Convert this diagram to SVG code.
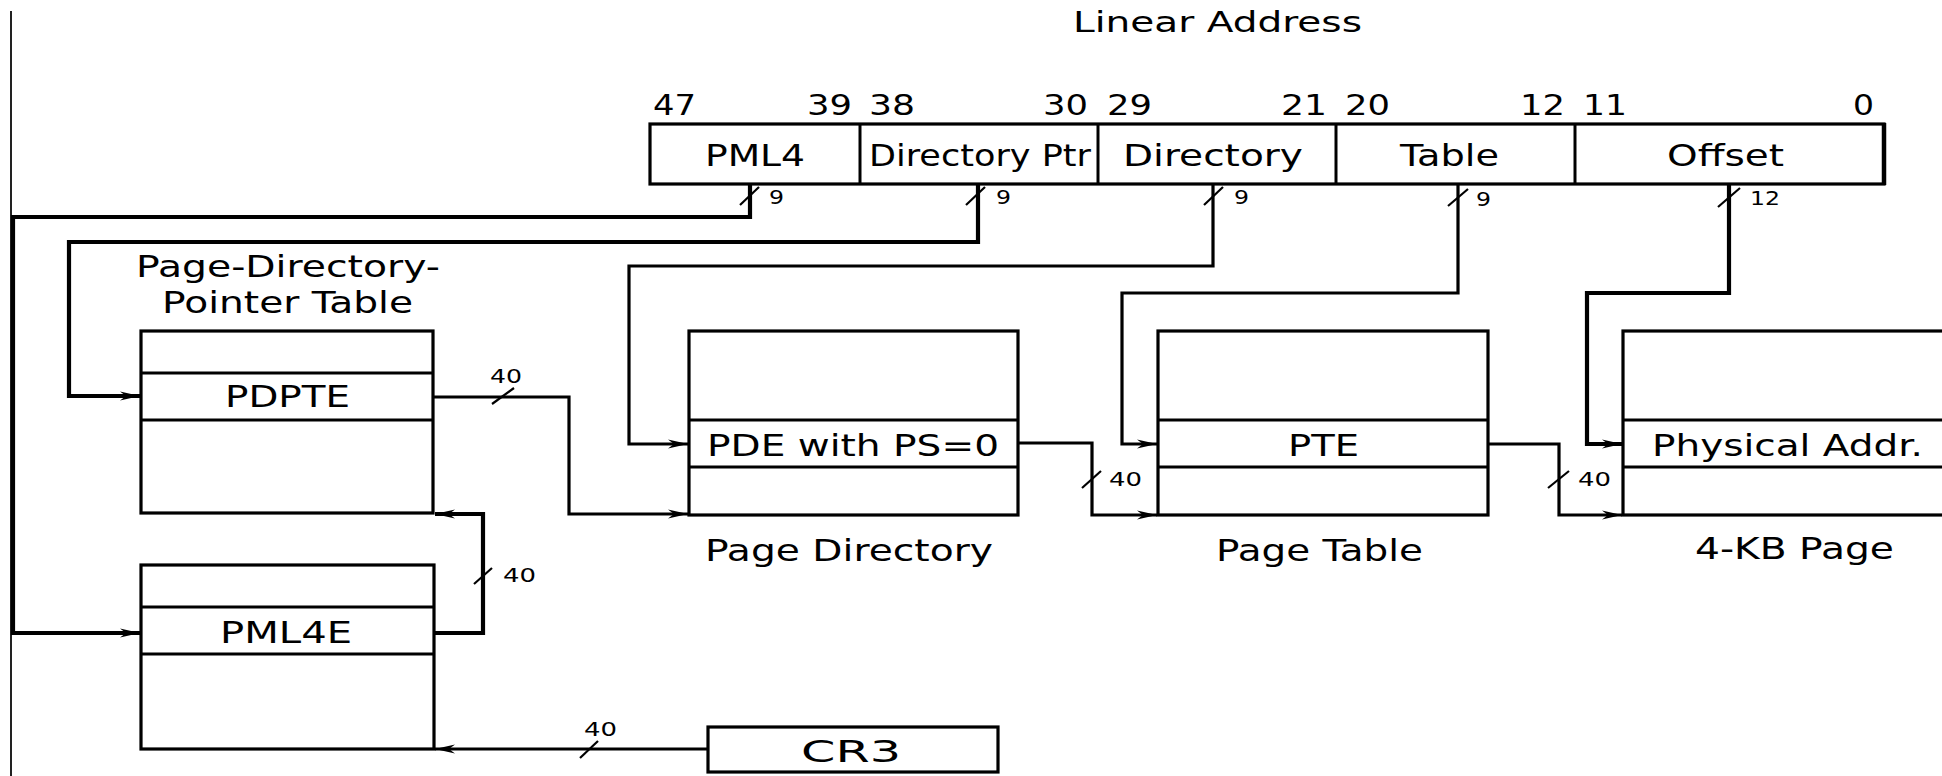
<svg xmlns="http://www.w3.org/2000/svg" width="1942" height="776" viewBox="0 0 1942 776">
<style>
text{font-family:"DejaVu Sans","Liberation Sans",sans-serif;fill:#000}
.t{font-size:30px}
.b{font-size:28px}
.s{font-size:19px}
.box{fill:#fff;stroke:#000;stroke-width:3.2}
.row{stroke:#000;stroke-width:3}
.c{fill:none;stroke:#000;stroke-width:3.2;stroke-linejoin:miter}
.ck{stroke-width:4.2}
.tick{stroke:#000;stroke-width:2.2}
</style>
<defs>
<marker id="ah" viewBox="0 0 20 10" refX="20" refY="5" markerWidth="20" markerHeight="10" markerUnits="userSpaceOnUse" orient="auto">
<path d="M0,0.5 L20,5 L0,9.5 L6,5 Z" fill="#000"/>
</marker>
</defs>
<rect width="1942" height="776" fill="#fff"/>
<line x1="11" y1="11" x2="11" y2="776" stroke="#222" stroke-width="2"/>

<g id="title">
<text x="1073" y="32" textLength="289" lengthAdjust="spacingAndGlyphs" style="font-size:29px">Linear Address</text>
</g>

<g id="linear-address">
<rect class="box" x="650" y="124" width="1234" height="60"/>
<line class="row" x1="860" y1="124" x2="860" y2="184"/>
<line class="row" x1="1098" y1="124" x2="1098" y2="184"/>
<line class="row" x1="1336" y1="124" x2="1336" y2="184"/>
<line class="row" x1="1575" y1="124" x2="1575" y2="184"/>
<line x1="1884" y1="123" x2="1884" y2="185" stroke="#000" stroke-width="4.5"/>
<text class="b" x="653" y="115" textLength="43" lengthAdjust="spacingAndGlyphs">47</text>
<text class="b" x="807" y="115" textLength="45" lengthAdjust="spacingAndGlyphs">39</text>
<text class="b" x="869" y="115" textLength="46" lengthAdjust="spacingAndGlyphs">38</text>
<text class="b" x="1043" y="115" textLength="45" lengthAdjust="spacingAndGlyphs">30</text>
<text class="b" x="1107" y="115" textLength="45" lengthAdjust="spacingAndGlyphs">29</text>
<text class="b" x="1281" y="115" textLength="46" lengthAdjust="spacingAndGlyphs">21</text>
<text class="b" x="1345" y="115" textLength="45" lengthAdjust="spacingAndGlyphs">20</text>
<text class="b" x="1520" y="115" textLength="45" lengthAdjust="spacingAndGlyphs">12</text>
<text class="b" x="1583" y="115" textLength="44" lengthAdjust="spacingAndGlyphs">11</text>
<text class="b" x="1853" y="115" textLength="21" lengthAdjust="spacingAndGlyphs">0</text>
<text class="t" x="705" y="166" textLength="100" lengthAdjust="spacingAndGlyphs">PML4</text>
<text class="t" x="869" y="166" textLength="222" lengthAdjust="spacingAndGlyphs">Directory Ptr</text>
<text class="t" x="1123" y="166" textLength="180" lengthAdjust="spacingAndGlyphs">Directory</text>
<text class="t" x="1400" y="166" textLength="99" lengthAdjust="spacingAndGlyphs">Table</text>
<text class="t" x="1667" y="166" textLength="117" lengthAdjust="spacingAndGlyphs">Offset</text>
</g>

<g id="pdpt">
<text class="t" x="136" y="277" textLength="304" lengthAdjust="spacingAndGlyphs">Page-Directory-</text>
<text class="t" x="162" y="313" textLength="251" lengthAdjust="spacingAndGlyphs">Pointer Table</text>
<rect class="box" x="141" y="331" width="292" height="182"/>
<line class="row" x1="141" y1="373" x2="433" y2="373"/>
<line class="row" x1="141" y1="420" x2="433" y2="420"/>
<text class="t" x="225" y="407" textLength="125" lengthAdjust="spacingAndGlyphs">PDPTE</text>
</g>

<g id="pml4-table">
<rect class="box" x="141" y="565" width="293" height="184"/>
<line class="row" x1="141" y1="607" x2="434" y2="607"/>
<line class="row" x1="141" y1="654" x2="434" y2="654"/>
<text class="t" x="220" y="643" textLength="132" lengthAdjust="spacingAndGlyphs">PML4E</text>
</g>

<g id="cr3">
<rect class="box" x="708" y="727" width="290" height="45"/>
<text class="t" x="801" y="762" textLength="100" lengthAdjust="spacingAndGlyphs">CR3</text>
</g>

<g id="page-directory">
<rect class="box" x="689" y="331" width="329" height="184"/>
<line class="row" x1="689" y1="420" x2="1018" y2="420"/>
<line class="row" x1="689" y1="467" x2="1018" y2="467"/>
<text class="t" x="707" y="456" textLength="292" lengthAdjust="spacingAndGlyphs">PDE with PS=0</text>
<text class="t" x="705" y="561" textLength="288" lengthAdjust="spacingAndGlyphs">Page Directory</text>
</g>

<g id="page-table">
<rect class="box" x="1158" y="331" width="330" height="184"/>
<line class="row" x1="1158" y1="420" x2="1488" y2="420"/>
<line class="row" x1="1158" y1="467" x2="1488" y2="467"/>
<text class="t" x="1288" y="456" textLength="71" lengthAdjust="spacingAndGlyphs">PTE</text>
<text class="t" x="1216" y="561" textLength="207" lengthAdjust="spacingAndGlyphs">Page Table</text>
</g>

<g id="page">
<rect class="box" x="1623" y="331" width="400" height="184"/>
<line class="row" x1="1623" y1="420" x2="1950" y2="420"/>
<line class="row" x1="1623" y1="467" x2="1950" y2="467"/>
<text class="t" x="1652" y="456" textLength="271" lengthAdjust="spacingAndGlyphs">Physical Addr.</text>
<text class="t" x="1695" y="559" textLength="199" lengthAdjust="spacingAndGlyphs">4-KB Page</text>
</g>

<g id="connectors">
<path class="c ck" d="M750,184 V217 H13 V633 H140" marker-end="url(#ah)"/>
<path class="c ck" d="M978,184 V242 H69 V396 H140" marker-end="url(#ah)"/>
<path class="c" d="M1213,184 V266 H629 V444 H688" marker-end="url(#ah)"/>
<path class="c" d="M1458,184 V293 H1122 V444 H1157" marker-end="url(#ah)"/>
<path class="c ck" d="M1729,184 V293 H1587 V444 H1622" marker-end="url(#ah)"/>
<path class="c" d="M433,397 H569 V514 H688" marker-end="url(#ah)"/>
<path class="c ck" d="M434,633 H483 V514 H435" marker-end="url(#ah)"/>
<path class="c" d="M708,749 H435" marker-end="url(#ah)"/>
<path class="c" d="M1018,443 H1092 V515 H1157" marker-end="url(#ah)"/>
<path class="c" d="M1488,444 H1559 V515 H1622" marker-end="url(#ah)"/>
<line class="tick" x1="740" y1="205" x2="759" y2="187"/>
<line class="tick" x1="966" y1="205" x2="985" y2="187"/>
<line class="tick" x1="1204" y1="205" x2="1223" y2="187"/>
<line class="tick" x1="1448" y1="206" x2="1468" y2="189"/>
<line class="tick" x1="1718" y1="207" x2="1740" y2="188"/>
<line class="tick" x1="492" y1="404" x2="514" y2="388"/>
<line class="tick" x1="474" y1="584" x2="492" y2="568"/>
<line class="tick" x1="580" y1="758" x2="598" y2="741"/>
<line class="tick" x1="1082" y1="488" x2="1101" y2="471"/>
<line class="tick" x1="1548" y1="488" x2="1569" y2="471"/>
<text class="s" x="769" y="204" textLength="15" lengthAdjust="spacingAndGlyphs">9</text>
<text class="s" x="996" y="204" textLength="15" lengthAdjust="spacingAndGlyphs">9</text>
<text class="s" x="1234" y="204" textLength="15" lengthAdjust="spacingAndGlyphs">9</text>
<text class="s" x="1476" y="206" textLength="15" lengthAdjust="spacingAndGlyphs">9</text>
<text class="s" x="1750" y="205" textLength="30" lengthAdjust="spacingAndGlyphs">12</text>
<text class="s" x="490" y="383" textLength="32" lengthAdjust="spacingAndGlyphs">40</text>
<text class="s" x="503" y="582" textLength="33" lengthAdjust="spacingAndGlyphs">40</text>
<text class="s" x="584" y="736" textLength="33" lengthAdjust="spacingAndGlyphs">40</text>
<text class="s" x="1109" y="486" textLength="33" lengthAdjust="spacingAndGlyphs">40</text>
<text class="s" x="1578" y="486" textLength="33" lengthAdjust="spacingAndGlyphs">40</text>
</g>
</svg>
